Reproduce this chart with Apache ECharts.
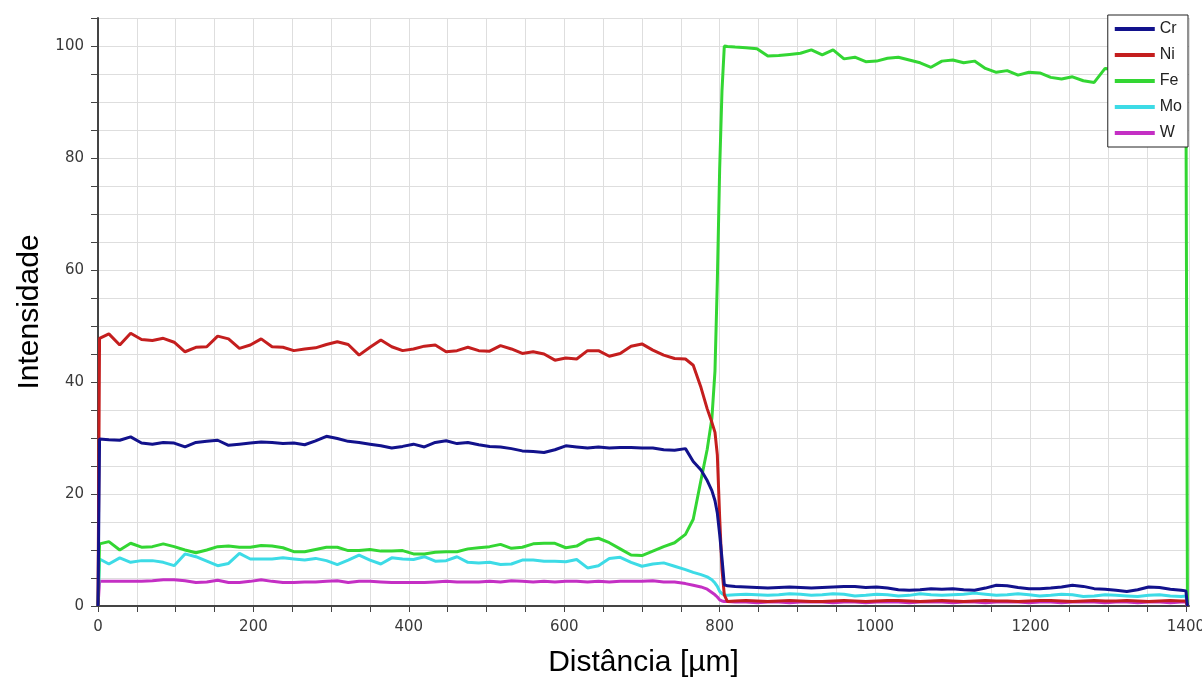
<!DOCTYPE html>
<html>
<head>
<meta charset="utf-8">
<title>Perfil de linha EDS</title>
<script src="https://cdn.jsdelivr.net/npm/echarts@6/dist/echarts.min.js"></script>
</head>
<body style="margin:0;background:#fff">
<div id="chart" style="width:1202px;height:686px"></div>
<script>
// distancia ao longo da linha de varredura (um)
const distance = [
  0, 2, 14, 28, 42, 56, 70, 84, 98, 112, 126, 140, 154, 168,
  182, 196, 210, 224, 238, 252, 266, 280, 294, 308, 322, 336, 350, 364,
  378, 392, 406, 420, 434, 448, 462, 476, 490, 504, 518, 532, 546, 560,
  574, 588, 602, 616, 630, 644, 658, 672, 686, 700, 714, 728, 742, 756,
  766, 776, 784, 790, 794, 797, 800, 803, 806, 810,
  820, 834, 848, 862, 876, 890, 904, 918, 932, 946, 960, 974, 988, 1002,
  1016, 1030, 1044, 1058, 1072, 1086, 1100, 1114, 1128, 1142, 1156, 1170, 1184, 1198,
  1212, 1226, 1240, 1254, 1268, 1282, 1296, 1310, 1324, 1338, 1352, 1366, 1380, 1394,
  1400, 1402
]

const cr = [
  0, 29.8, 29.7, 29.6, 30.2, 29.1, 28.9, 29.2, 29.1, 28.4, 29.2, 29.4, 29.6, 28.7,
  28.9, 29.1, 29.3, 29.2, 29.0, 29.1, 28.8, 29.5, 30.3, 29.9, 29.4, 29.2, 28.9, 28.6,
  28.2, 28.5, 28.9, 28.4, 29.2, 29.5, 29.0, 29.2, 28.8, 28.5, 28.4, 28.1, 27.7, 27.6,
  27.4, 27.9, 28.6, 28.4, 28.2, 28.4, 28.2, 28.3, 28.3, 28.2, 28.2, 27.9, 27.8, 28.1,
  25.8, 24.3, 22.4, 20.6, 18.8, 16.6, 12.8, 8.5, 3.8, 3.6,
  3.5, 3.4, 3.3, 3.2, 3.3, 3.4, 3.3, 3.2, 3.3, 3.4, 3.5, 3.5, 3.3, 3.4,
  3.2, 2.9, 2.8, 2.9, 3.1, 3.0, 3.1, 2.9, 2.8, 3.2, 3.7, 3.6, 3.3, 3.1,
  3.1, 3.2, 3.4, 3.7, 3.5, 3.1, 3.0, 2.8, 2.6, 2.9, 3.4, 3.3, 3.0, 2.8,
  2.7, 0
]

const ni = [
  0, 47.8, 48.6, 46.6, 48.7, 47.6, 47.4, 47.8, 47.1, 45.4, 46.2, 46.3, 48.2, 47.7,
  46.0, 46.6, 47.7, 46.3, 46.2, 45.6, 45.9, 46.1, 46.7, 47.2, 46.7, 44.8, 46.2, 47.5,
  46.3, 45.6, 45.9, 46.4, 46.6, 45.4, 45.6, 46.2, 45.6, 45.5, 46.5, 45.9, 45.1, 45.4,
  45.0, 43.9, 44.3, 44.1, 45.6, 45.6, 44.6, 45.1, 46.4, 46.8, 45.7, 44.8, 44.2, 44.1,
  43.0, 39.0, 35.2, 32.8, 31.0, 27.0, 15.9, 6.5, 2.0, 0.8,
  0.9, 1.0, 0.9, 0.8, 0.9, 1.0, 0.9, 0.8, 0.8, 0.9, 1.0, 0.9, 0.8, 0.9,
  1.0, 1.0, 0.9, 0.8, 0.9, 1.0, 0.9, 0.8, 0.9, 1.0, 0.9, 0.9, 0.8, 0.9,
  1.0, 1.0, 0.9, 0.8, 0.9, 1.0, 0.9, 0.9, 1.0, 0.9, 0.8, 0.9, 1.0, 0.9,
  0.9, 0
]

const fe = [
  0, 11.1, 11.5, 10.0, 11.2, 10.5, 10.6, 11.1, 10.6, 10.0, 9.5, 10.0, 10.6, 10.7,
  10.5, 10.5, 10.8, 10.7, 10.4, 9.7, 9.7, 10.1, 10.5, 10.5, 9.9, 9.9, 10.1, 9.8,
  9.8, 9.9, 9.3, 9.3, 9.6, 9.7, 9.7, 10.2, 10.4, 10.6, 11.0, 10.3, 10.5, 11.1,
  11.2, 11.2, 10.4, 10.7, 11.8, 12.1, 11.3, 10.2, 9.1, 9.0, 9.8, 10.6, 11.3, 12.8,
  15.5, 22.5, 28.0, 33.5, 42.0, 58.0, 78.0, 92.0, 100.0, 99.9,
  99.8, 99.7, 99.5, 98.2, 98.3, 98.5, 98.7, 99.3, 98.4, 99.3, 97.7, 98.0, 97.2, 97.3,
  97.8, 98.0, 97.5, 97.0, 96.2, 97.3, 97.5, 97.0, 97.3, 96.0, 95.3, 95.6, 94.8, 95.3,
  95.2, 94.4, 94.1, 94.5, 93.8, 93.5, 96.0, 95.8, 96.5, 95.7, 96.2, 95.5, 95.9, 95.6,
  95.5, 0
]

const mo = [
  0, 8.4, 7.5, 8.6, 7.8, 8.1, 8.1, 7.8, 7.2, 9.3, 8.8, 8.0, 7.2, 7.6,
  9.4, 8.4, 8.4, 8.4, 8.6, 8.4, 8.2, 8.5, 8.1, 7.4, 8.2, 9.1, 8.2, 7.5,
  8.6, 8.4, 8.3, 8.8, 8.0, 8.1, 8.8, 7.8, 7.7, 7.8, 7.4, 7.5, 8.2, 8.2,
  8.0, 8.0, 7.9, 8.3, 6.8, 7.2, 8.5, 8.7, 7.8, 7.1, 7.5, 7.7, 7.1, 6.5,
  6.0, 5.6, 5.2, 4.7, 4.1, 3.5, 2.6, 2.2, 2.0, 1.9,
  2.0, 2.1, 2.0, 1.9, 2.0, 2.2, 2.1, 1.9, 2.0, 2.2, 2.1, 1.8, 1.9, 2.1,
  2.0, 1.8, 1.9, 2.2, 2.0, 1.9, 2.0, 2.1, 2.3, 2.1, 1.9, 2.0, 2.2, 2.0,
  1.8, 1.9, 2.1, 2.0, 1.7, 1.8, 2.0, 1.9, 1.8, 1.7, 1.9, 2.0, 1.8, 1.7,
  1.8, 0
]

const w = [
  0, 4.4, 4.4, 4.4, 4.4, 4.4, 4.5, 4.7, 4.7, 4.5, 4.2, 4.3, 4.6, 4.2,
  4.2, 4.4, 4.7, 4.4, 4.2, 4.2, 4.3, 4.3, 4.4, 4.5, 4.2, 4.4, 4.4, 4.3,
  4.2, 4.2, 4.2, 4.2, 4.3, 4.4, 4.3, 4.3, 4.3, 4.4, 4.3, 4.5, 4.4, 4.3,
  4.4, 4.3, 4.4, 4.4, 4.3, 4.4, 4.3, 4.4, 4.4, 4.4, 4.5, 4.3, 4.3, 4.0,
  3.7, 3.4, 3.0, 2.4, 2.0, 1.6, 1.1, 0.9, 0.8, 0.8,
  0.7, 0.7, 0.6, 0.7, 0.7, 0.6, 0.7, 0.7, 0.7, 0.6, 0.7, 0.7, 0.6, 0.7,
  0.7, 0.7, 0.6, 0.7, 0.7, 0.7, 0.6, 0.7, 0.7, 0.6, 0.7, 0.7, 0.7, 0.6,
  0.7, 0.7, 0.6, 0.7, 0.7, 0.7, 0.6, 0.7, 0.7, 0.6, 0.7, 0.7, 0.6, 0.7,
  0.7, 0
]

const elements = ['Cr', 'Ni', 'Fe', 'Mo', 'W']
const colors = {
  Cr: '#12128c',
  Ni: '#c41e1e',
  Fe: '#33d633',
  Mo: '#3ddbe6',
  W: '#c42fc4'
}
const values = { Cr: cr, Ni: ni, Fe: fe, Mo: mo, W: w }

const chart = echarts.init(document.getElementById('chart'))

function makeSeries(name) {
  return {
    name: name,
    type: 'line',
    symbol: 'none',
    color: colors[name],
    lineStyle: { width: 3, color: colors[name] },
    data: distance.map((d, i) => [d, values[name][i]])
  }
}

const axisText = { fontFamily: 'DejaVu Sans', fontSize: 15, color: '#3a3a3a' }
const nameText = { fontFamily: 'Liberation Sans', fontSize: 30, color: '#000' }

const option = {
  animation: false,
  backgroundColor: '#fff',
  // sem isto o v6 encolhe a grelha para caber o rotulo 1400
  grid: { left: 98, right: 13, top: 18, bottom: 80, outerBoundsMode: 'none' },
  legend: {
    orient: 'vertical',
    right: 14,
    top: 15,
    data: elements,
    icon: 'rect',
    itemWidth: 40,
    itemHeight: 4,
    itemGap: 10,
    padding: [6, 6, 6, 7],
    backgroundColor: '#fff',
    borderColor: '#222',
    borderWidth: 1,
    textStyle: { fontFamily: 'Liberation Sans', fontSize: 16, color: '#222' }
  },
  xAxis: {
    type: 'value',
    min: 0,
    max: 1404,
    interval: 50,
    name: 'Distância [µm]',
    nameLocation: 'middle',
    nameGap: 42,
    nameTextStyle: nameText,
    axisLine: { lineStyle: { color: '#444', width: 2 } },
    axisTick: { length: 6, lineStyle: { color: '#444' } },
    axisLabel: Object.assign({
      margin: 14,
      showMaxLabel: false,
      formatter: v => (v % 200 === 0 ? String(v) : '')
    }, axisText),
    splitLine: { show: true, lineStyle: { color: '#dedede', width: 1 } }
  },
  yAxis: {
    type: 'value',
    min: 0,
    max: 105,
    interval: 5,
    name: 'Intensidade',
    nameLocation: 'middle',
    nameGap: 45,
    nameTextStyle: nameText,
    axisLine: { show: true, lineStyle: { color: '#444', width: 2 } },
    axisTick: { show: true, length: 7, lineStyle: { color: '#444' } },
    axisLabel: Object.assign({
      margin: 14,
      formatter: v => (v % 20 === 0 ? String(v) : '')
    }, axisText),
    splitLine: { show: true, lineStyle: { color: '#dedede', width: 1 } }
  },
  // W por baixo, Cr por cima
  series: ['W', 'Mo', 'Fe', 'Ni', 'Cr'].map(makeSeries)
}

chart.setOption(option)
</script>
</body>
</html>
